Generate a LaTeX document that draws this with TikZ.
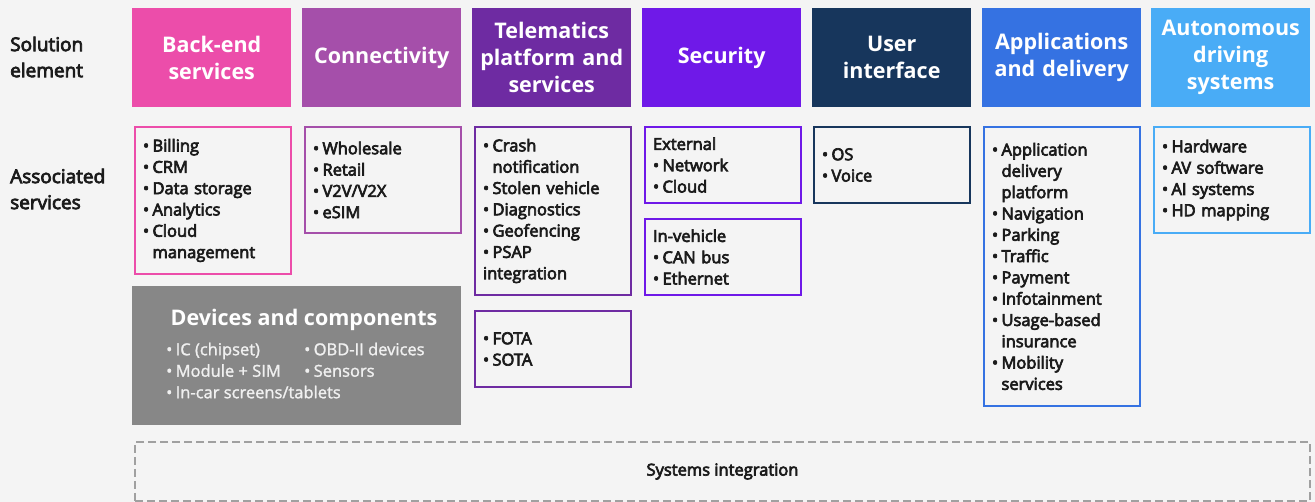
\documentclass[tikz,border=0pt]{standalone}
\usepackage{fontspec}
\setmainfont{Open Sans}
\newfontfamily\semib{Open Sans}[FakeBold=4]
\newfontfamily\medw{Open Sans}[FakeBold=1.5]
\usepackage{xcolor}

\definecolor{pinkbe}{HTML}{EC4DAA}
\definecolor{purpcon}{HTML}{A54FAA}
\definecolor{purptel}{HTML}{6E2BA2}
\definecolor{violsec}{HTML}{6F19E8}
\definecolor{navyui}{HTML}{17365C}
\definecolor{blueapp}{HTML}{3572E2}
\definecolor{skyads}{HTML}{49ACF6}
\definecolor{devgray}{HTML}{878787}
\definecolor{devtext}{HTML}{F0F0F0}
\definecolor{bggray}{HTML}{F4F4F4}
\definecolor{dashgray}{HTML}{A0A0A0}
\definecolor{inktext}{HTML}{1B1B1B}

\newcommand{\itm}{\makebox[9.5pt][l]{\textbullet}}
\newcommand{\ind}{\hspace*{9.5pt}}

\begin{document}
\begin{tikzpicture}[x=1pt,y=-1pt,
    header/.style={fill=#1,anchor=north west,minimum width=159pt,minimum height=99pt,
      text width=151pt,inner sep=4pt,align=center,text=white,
      font=\bfseries\fontsize{21.5}{27}\selectfont},
    listbox/.style={draw=#1,line width=2pt,anchor=north west,minimum width=156pt,
      text width=140pt,inner xsep=8pt,inner ysep=0pt,align=left,text=inktext,
      font=\semib\fontsize{16.5}{21.3}\selectfont},
    rowlabel/.style={anchor=west,align=left,inner sep=0pt,text=inktext,
      font=\semib\fontsize{19}{26}\selectfont}]
  \useasboundingbox (0,0) rectangle (1315,502);
  \fill[bggray] (0,0) rectangle (1315,502);

  % row labels
  \node[rowlabel] (solel) at (10,57) {Solution\\element};
  \node[rowlabel] (assoc) at (10,189) {Associated\\services};

  % solution elements
  \node[header=pinkbe] (hbe) at (132,8) {Back-end\\services};
  \node[header=purpcon] (hcon) at (302,8) {Connectivity};
  \node[header=purptel] (htel) at (472,8) {Telematics\\platform and\\services};
  \node[header=violsec] (hsec) at (642,8) {Security};
  \node[header=navyui] (hui) at (812,8) {User\\interface};
  \node[header=blueapp] (happ) at (982,8) {Applications\\and delivery};
  \node[header=skyads] (hads) at (1151,8) {Autonomous\\driving\\systems};

  % associated services
  \node[listbox=pinkbe,minimum height=147pt] (lbe) at (134,126)
    {\itm Billing\\\itm CRM\\\itm Data storage\\\itm Analytics\\\itm Cloud\\\ind management};
  \node[listbox=purpcon,minimum height=106pt] (lcon) at (304,126)
    {\itm Wholesale\\\itm Retail\\\itm V2V/V2X\\\itm eSIM};
  \node[listbox=purptel,minimum height=168pt] (ltel) at (474,126)
    {\itm Crash\\\ind notification\\\itm Stolen vehicle\\\itm Diagnostics\\\itm Geofencing\\\itm PSAP\\integration};
  \node[listbox=purptel,minimum height=76pt] (lota) at (474,310)
    {\itm FOTA\\\itm SOTA};
  \node[listbox=violsec,minimum height=76pt] (lext) at (644,126)
    {External\\\itm Network\\\itm Cloud};
  \node[listbox=violsec,minimum height=76pt] (linv) at (644,218)
    {In-vehicle\\\itm CAN bus\\\itm Ethernet};
  \node[listbox=navyui,minimum height=76pt] (lui) at (813,126)
    {\itm OS\\\itm Voice};
  \node[listbox=blueapp,minimum height=279pt] (lapp) at (983,126)
    {\itm Application\\\ind delivery\\\ind platform\\\itm Navigation\\\itm Parking\\\itm Traffic\\\itm Payment\\\itm Infotainment\\\itm Usage-based\\\ind insurance\\\itm Mobility\\\ind services};
  \node[listbox=skyads,minimum height=106pt] (lads) at (1153,126)
    {\itm Hardware\\\itm AV software\\\itm AI systems\\\itm HD mapping};

  % devices and components
  \node[fill=devgray,anchor=north west,minimum width=329pt,minimum height=139pt,inner sep=0pt] (dev) at (132,286) {};
  \node[text=white,font=\bfseries\fontsize{21.5}{27}\selectfont] (devhead) at (304,320) {Devices and components};
  \node[anchor=north west,inner sep=0pt,text=devtext,font=\medw\fontsize{16.5}{21.5}\selectfont] (devitems) at (166,340)
    {\begin{tabular}{@{}p{138pt}@{}l@{}}
      \itm IC (chipset) & \itm OBD-II devices\\
      \itm Module + SIM & \itm Sensors\\
      \multicolumn{2}{@{}l@{}}{\itm In-car screens/tablets}
    \end{tabular}};

  % systems integration
  \node[draw=dashgray,line width=2pt,dash pattern=on 8pt off 4pt,anchor=north west,
    minimum width=1175pt,minimum height=59pt,text=inktext,
    font=\semib\fontsize{16.5}{20}\selectfont] (sysint) at (134,441) {Systems integration};
\end{tikzpicture}
\end{document}
